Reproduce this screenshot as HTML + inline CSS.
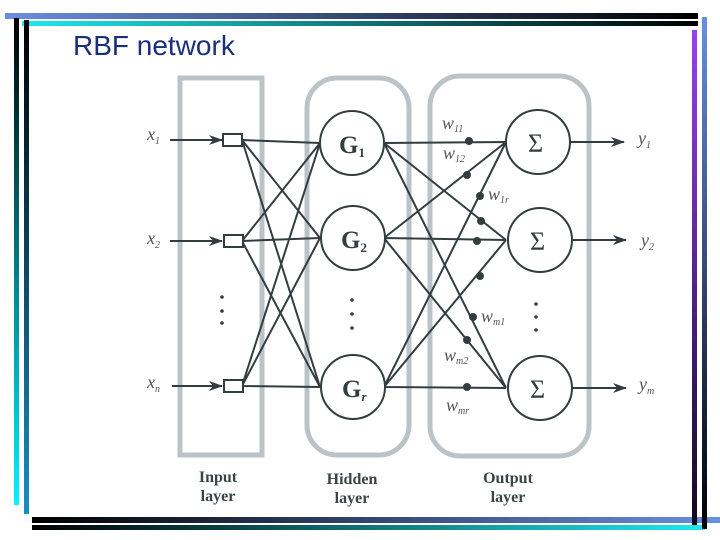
<!DOCTYPE html>
<html><head><meta charset="utf-8"><style>
html,body{margin:0;padding:0;background:#fff;width:720px;height:540px;overflow:hidden}
</style></head><body>
<svg width="720" height="540" viewBox="0 0 720 540" xmlns="http://www.w3.org/2000/svg">
<defs>
<linearGradient id="gTop" x1="0" x2="1"><stop offset="0" stop-color="#6a8fe0"/><stop offset="1" stop-color="#000"/></linearGradient>
<linearGradient id="gCy" x1="0" x2="1"><stop offset="0" stop-color="#1ee8f0"/><stop offset="1" stop-color="#000"/></linearGradient>
<linearGradient id="gL1" x1="0" y1="0" x2="0" y2="1"><stop offset="0" stop-color="#000"/><stop offset="1" stop-color="#00f4ff"/></linearGradient>
<linearGradient id="gL2" x1="0" y1="0" x2="0" y2="1"><stop offset="0" stop-color="#000"/><stop offset="1" stop-color="#1a8ec0"/></linearGradient>
<linearGradient id="gB1" x1="0" x2="1"><stop offset="0" stop-color="#000"/><stop offset="1" stop-color="#6a8fe0"/></linearGradient>
<linearGradient id="gB2" x1="0" x2="1"><stop offset="0" stop-color="#000"/><stop offset="1" stop-color="#1ee8f0"/></linearGradient>
<linearGradient id="gR1" x1="0" y1="0" x2="0" y2="1"><stop offset="0" stop-color="#9a40f0"/><stop offset="1" stop-color="#100820"/></linearGradient>
<linearGradient id="gR2" x1="0" y1="0" x2="0" y2="1"><stop offset="0" stop-color="#6a8fe0"/><stop offset="1" stop-color="#000"/></linearGradient>
<marker id="ar" markerWidth="14" markerHeight="10" refX="13" refY="5" orient="auto" markerUnits="userSpaceOnUse"><path d="M0,0 L14,5 L0,10 L4,5 Z" fill="#333d40"/></marker>
</defs>
<rect x="5" y="13" width="693" height="6" fill="url(#gTop)"/>
<rect x="22" y="21" width="676" height="5" fill="url(#gCy)"/>
<rect x="14" y="18" width="5" height="487" fill="url(#gL1)"/>
<rect x="24" y="20" width="5" height="494" fill="url(#gL2)"/>
<rect x="32" y="517" width="688" height="6" fill="url(#gB1)"/>
<rect x="32" y="525" width="673" height="5" fill="url(#gB2)"/>
<rect x="692" y="30" width="5" height="495" fill="url(#gR1)"/>
<rect x="702" y="17" width="5" height="512" fill="url(#gR2)"/>
<text x="73" y="55" font-family="Liberation Sans, sans-serif" font-size="28" fill="#1a2f7a">RBF network</text>

<g fill="none" stroke="#bcc3c6" stroke-width="5">
<rect x="180" y="78" width="82" height="377"/>
<rect x="307" y="78" width="102" height="377" rx="30"/>
<rect x="430" y="76" width="159" height="380" rx="30"/>
</g>

<g stroke="#333d40" stroke-width="2" fill="none">
<line x1="170" y1="140" x2="222" y2="140" marker-end="url(#ar)"/>
<line x1="170" y1="241" x2="222" y2="241" marker-end="url(#ar)"/>
<line x1="172" y1="386" x2="222" y2="386" marker-end="url(#ar)"/>
<path d="M242,140 L320,143 M242,140 L320,238 M242,140 L320,387
M242,241 L320,143 M242,241 L320,238 M242,241 L320,387
M242,386 L320,143 M242,386 L320,238 M242,386 L320,387"/>
<path d="M384,143 L506,142 M384,143 L506,240 M384,143 L506,388
M384,238 L506,142 M384,238 L506,240 M384,238 L506,388
M384,387 L506,142 M384,387 L506,240 M384,387 L506,388"/>
<line x1="570" y1="142" x2="624" y2="142" marker-end="url(#ar)"/>
<line x1="571" y1="240" x2="626" y2="240" marker-end="url(#ar)"/>
<line x1="571" y1="388" x2="626" y2="388" marker-end="url(#ar)"/>
</g>
<g fill="#fff" stroke="#333d40" stroke-width="2">
<rect x="223" y="134" width="19" height="12"/>
<rect x="224" y="235" width="19" height="12"/>
<rect x="224" y="380" width="19" height="12"/>
<circle cx="352" cy="143" r="32"/>
<circle cx="353" cy="238" r="32"/>
<circle cx="353" cy="387" r="32"/>
<circle cx="538" cy="142" r="32"/>
<circle cx="540" cy="240" r="32"/>
<circle cx="540" cy="388" r="32"/>
</g>
<g fill="#333d40">
<circle cx="469" cy="141" r="4"/><circle cx="467" cy="175" r="4"/><circle cx="480" cy="196" r="4"/>
<circle cx="481" cy="221" r="4"/><circle cx="477" cy="241" r="4"/><circle cx="480" cy="276" r="4"/>
<circle cx="473" cy="317" r="4"/><circle cx="467" cy="340" r="4"/><circle cx="467" cy="387" r="4"/>
<circle cx="222" cy="297" r="1.8"/><circle cx="222" cy="311" r="1.8"/><circle cx="222" cy="323" r="1.8"/>
<circle cx="352" cy="300" r="1.8"/><circle cx="352" cy="314" r="1.8"/><circle cx="352" cy="328" r="1.8"/>
<circle cx="536" cy="304" r="1.8"/><circle cx="536" cy="317" r="1.8"/><circle cx="536" cy="330" r="1.8"/>
</g>
<g font-family="Liberation Serif, serif" fill="#333d40">
<text x="339" y="153" font-size="25" font-weight="bold">G<tspan font-size="13" dy="4">1</tspan></text>
<text x="341" y="248" font-size="25" font-weight="bold">G<tspan font-size="13" dy="4">2</tspan></text>
<text x="342" y="397" font-size="25" font-weight="bold">G<tspan font-size="13" dy="4" font-style="italic">r</tspan></text>
<text x="528" y="152" font-size="26">Σ</text>
<text x="530" y="250" font-size="26">Σ</text>
<text x="530" y="398" font-size="26">Σ</text>
</g>
<g font-family="Liberation Serif, serif" font-style="italic" fill="#555" font-size="18">
<text x="147" y="140">x<tspan font-size="10" dy="4">1</tspan></text>
<text x="147" y="244">x<tspan font-size="10" dy="4">2</tspan></text>
<text x="147" y="388">x<tspan font-size="10" dy="4">n</tspan></text>
<text x="638" y="144">y<tspan font-size="10" dy="4">1</tspan></text>
<text x="641" y="246">y<tspan font-size="10" dy="4">2</tspan></text>
<text x="639" y="390">y<tspan font-size="10" dy="4">m</tspan></text>
<text x="442" y="129">w<tspan font-size="10" dy="3">11</tspan></text>
<text x="443" y="159">w<tspan font-size="10" dy="3">12</tspan></text>
<text x="488" y="200">w<tspan font-size="10" dy="3">1r</tspan></text>
<text x="481" y="322">w<tspan font-size="10" dy="3">m1</tspan></text>
<text x="444" y="361">w<tspan font-size="10" dy="3">m2</tspan></text>
<text x="446" y="411">w<tspan font-size="10" dy="3">mr</tspan></text>
</g>
<g font-family="Liberation Serif, serif" font-weight="bold" fill="#3a4446" font-size="16" text-anchor="middle">
<text x="218" y="482">Input</text><text x="218" y="501">layer</text>
<text x="352" y="484">Hidden</text><text x="352" y="503">layer</text>
<text x="508" y="483">Output</text><text x="508" y="502">layer</text>
</g>
</svg>
</body></html>
